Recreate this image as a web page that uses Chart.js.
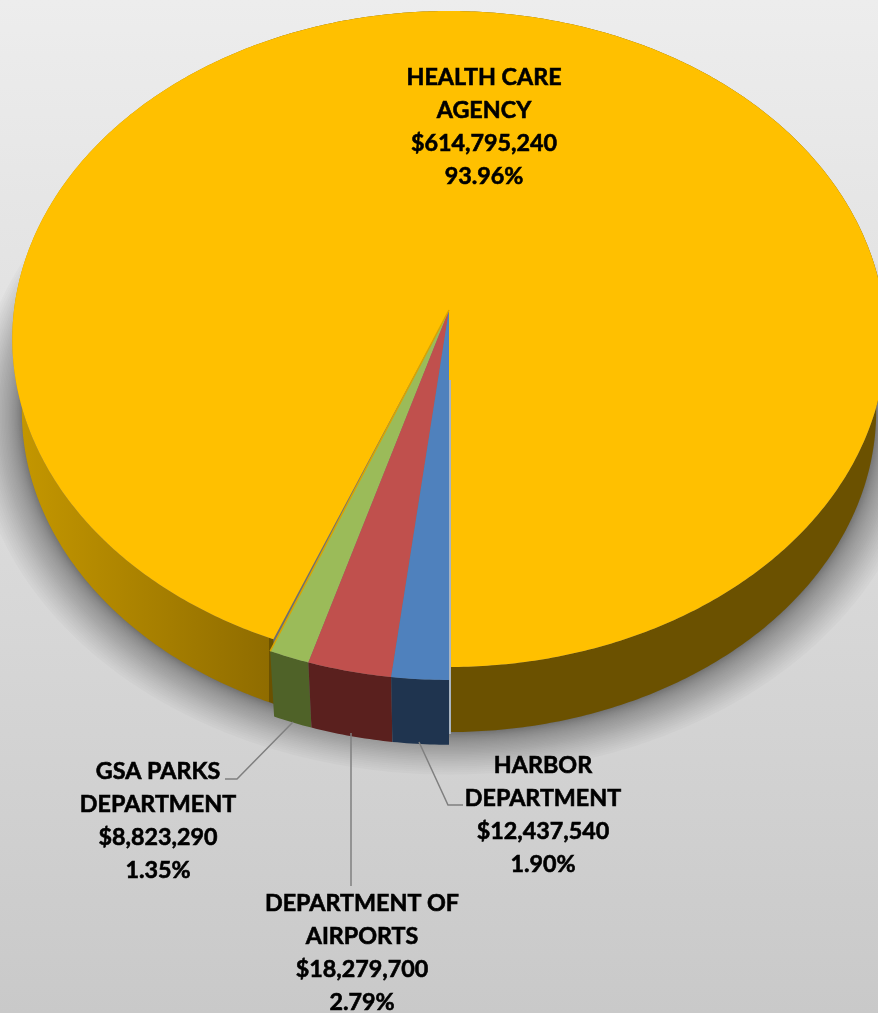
<!DOCTYPE html>
<html>
<head>
<meta charset="utf-8">
<title>Spending by department</title>
<style>
  html, body { margin: 0; padding: 0; }
  body { width: 878px; height: 1013px; overflow: hidden; background: linear-gradient(180deg, #ededed 0%, #c9c9c9 100%); }
  canvas { display: block; }
</style>
<script src="https://cdn.jsdelivr.net/npm/chart.js@4"></script>
</head>
<body>
<canvas id="chart" width="878" height="1013"></canvas>
<script>
  // clockwise from six o'clock
  const departments = [
    ["HARBOR", "DEPARTMENT"],
    ["DEPARTMENT OF", "AIRPORTS"],
    ["GSA PARKS", "DEPARTMENT"],
    ["HEALTH CARE", "AGENCY"]
  ];
  const amounts = [12437540, 18279700, 8823290, 614795240];
  const topColors = ["#4f81bd", "#c0504d", "#9bbb59", "#ffc000"];
  const wallColors = ["#1f344f", "#5a201e", "#4f6228", null];

  // centre x of each label block and baseline of its first line
  const labelX = [543, 362, 158, 484];
  const labelY = [773, 911, 779, 85];
  const lineGap = 33;

  const leaders = [
    [[419, 742], [448, 805], [463, 805]],
    [[351, 733], [351, 886]],
    [[293, 722], [237, 779], [225, 779]]
  ];

  // tilted disc: perspective divide on the axis pointing at the viewer
  const tilt = 0.0884;
  const topDisc = { cx: 449, cy: 310, rx: 435, ry: 325.4 };
  const baseDisc = { cx: 449, cy: 383, rx: 425.5, ry: 318.2 };
  // small slices stick out a bit
  const pulledRim = [1.015, 1.033];
  const flushRim = [1, 1];

  function project(disc, angle, rim) {
    const u = Math.cos(angle) * rim[0];
    const v = Math.sin(angle) * rim[1];
    const f = 1 / (1 - tilt * v);
    return [disc.cx + disc.rx * u * f, disc.cy + disc.ry * v * f];
  }

  function rimPoints(disc, start, end, rim) {
    const steps = Math.max(2, Math.ceil((end - start) / 0.01));
    const pts = [];
    for (let i = 0; i <= steps; i++) {
      pts.push(project(disc, start + (end - start) * i / steps, rim));
    }
    return pts;
  }

  function tracePoints(ctx, pts) {
    pts.forEach((p, i) => i ? ctx.lineTo(p[0], p[1]) : ctx.moveTo(p[0], p[1]));
  }

  // soft ground shadow: stacked faint discs, cut off in a straight line below
  function drawShadow(ctx) {
    const rings = 40;
    ctx.save();
    ctx.beginPath();
    ctx.rect(0, 0, 878, 776);
    ctx.clip();
    ctx.fillStyle = "rgba(0,0,0,0.02)";
    for (let i = 0; i < rings; i++) {
      const t = (rings - i) / rings;
      const grow = 1 + 0.11 * t * t;
      ctx.beginPath();
      tracePoints(ctx, rimPoints(baseDisc, 0, Math.PI * 2, [grow, grow]));
      ctx.closePath();
      ctx.fill();
    }
    ctx.restore();
  }

  function drawWall(ctx, el, i) {
    const rim = i === 3 ? flushRim : pulledRim;
    ctx.beginPath();
    tracePoints(ctx, rimPoints(topDisc, el.startAngle, el.endAngle, rim));
    rimPoints(baseDisc, el.startAngle, el.endAngle, rim).reverse().forEach(p => ctx.lineTo(p[0], p[1]));
    ctx.closePath();
    if (wallColors[i]) {
      ctx.fillStyle = wallColors[i];
    } else {
      const grad = ctx.createLinearGradient(0, 0, 449, 0);
      grad.addColorStop(0, "#c89a00");
      grad.addColorStop(0.6, "#8f6c00");
      grad.addColorStop(0.6, "#6b5100");
      grad.addColorStop(1, "#6b5100");
      ctx.fillStyle = grad;
    }
    ctx.fill();
  }

  function drawTop(ctx, el, i) {
    const rim = i === 3 ? flushRim : pulledRim;
    ctx.beginPath();
    ctx.moveTo(topDisc.cx, topDisc.cy);
    rimPoints(topDisc, el.startAngle, el.endAngle, rim).forEach(p => ctx.lineTo(p[0], p[1]));
    ctx.closePath();
    ctx.fillStyle = topColors[i];
    ctx.fill();
  }

  const pie3d = {
    id: "pie3d",
    // the arcs keep their angles from the controller, only the painting is replaced
    beforeDatasetsDraw(chart) {
      const ctx = chart.ctx;
      const arcs = chart.getDatasetMeta(0).data;
      drawShadow(ctx);
      drawWall(ctx, arcs[3], 3);
      drawTop(ctx, arcs[3], 3);
      [2, 1, 0].forEach(i => drawWall(ctx, arcs[i], i));
      [2, 1, 0].forEach(i => drawTop(ctx, arcs[i], i));

      // dark seam beside the green slice, pale edge beside the blue one
      const seam = project(topDisc, arcs[3].startAngle, pulledRim);
      ctx.strokeStyle = "#d9a400";
      ctx.lineWidth = 1.5;
      ctx.beginPath();
      ctx.moveTo(topDisc.cx, topDisc.cy);
      ctx.lineTo(seam[0], seam[1]);
      ctx.stroke();

      ctx.strokeStyle = "#a9b4c0";
      ctx.lineWidth = 2;
      ctx.beginPath();
      ctx.moveTo(450, 380);
      ctx.lineTo(450, 734);
      ctx.stroke();
      return false;
    },
    afterDraw(chart) {
      const ctx = chart.ctx;
      const total = amounts.reduce((a, b) => a + b, 0);

      ctx.strokeStyle = "#7f7f7f";
      ctx.lineWidth = 1.5;
      leaders.forEach(line => {
        ctx.beginPath();
        tracePoints(ctx, line);
        ctx.stroke();
      });

      ctx.fillStyle = "#000";
      ctx.strokeStyle = "#000";
      ctx.lineWidth = 0.6;
      ctx.font = "700 23.3px Lato";
      ctx.textAlign = "center";
      departments.forEach((name, i) => {
        const lines = name.concat(
          "$" + amounts[i].toLocaleString("en-US"),
          (amounts[i] / total * 100).toFixed(2) + "%"
        );
        lines.forEach((text, n) => {
          ctx.fillText(text, labelX[i], labelY[i] + n * lineGap);
          ctx.strokeText(text, labelX[i], labelY[i] + n * lineGap);
        });
      });
    }
  };

  new Chart(document.getElementById("chart"), {
    type: "pie",
    data: {
      labels: departments.map(d => d.join(" ")),
      datasets: [{ data: amounts, backgroundColor: topColors }]
    },
    options: {
      responsive: false,
      animation: false,
      rotation: 180,
      plugins: { legend: { display: false }, tooltip: { enabled: false } }
    },
    plugins: [pie3d]
  });
</script>
</body>
</html>
